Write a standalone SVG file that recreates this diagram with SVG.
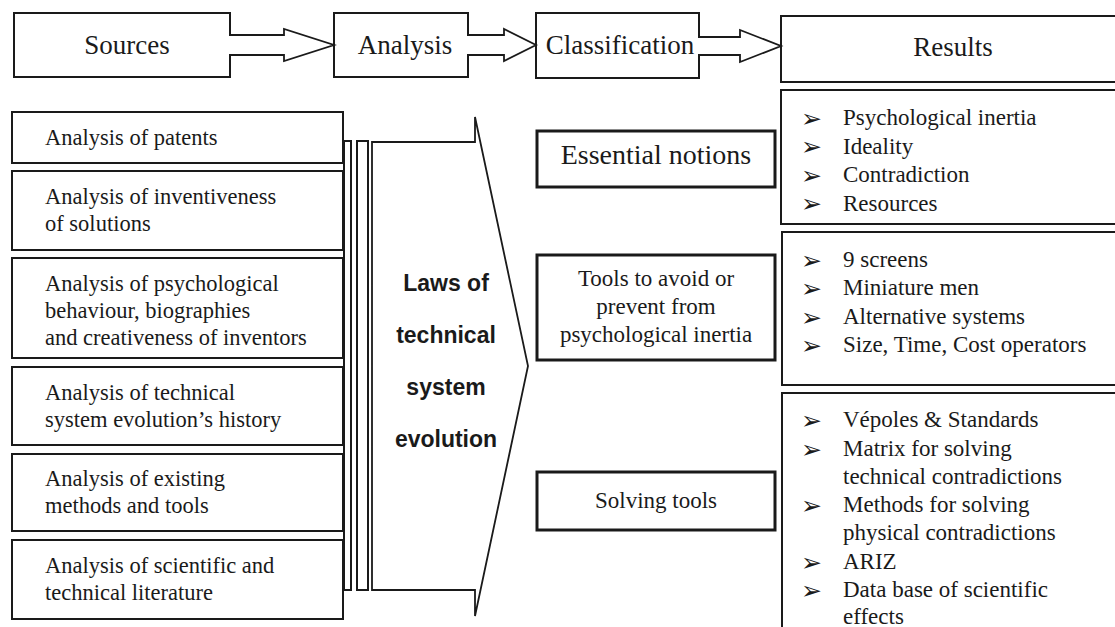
<svg xmlns="http://www.w3.org/2000/svg" width="1115" height="627" viewBox="0 0 1115 627">
<style>
.bx{fill:#fff;stroke:#1a1a1a;stroke-width:2}
.bxt{fill:#fff;stroke:#1a1a1a;stroke-width:3}
.ar{fill:#fff;stroke:#1a1a1a;stroke-width:1.8;stroke-linejoin:miter}
.t{font-family:"Liberation Serif","Times New Roman",serif;fill:#1a1a1a}
.h{font-size:27px}
.s{font-size:22.5px}
.r{font-size:23px}
.b{font-family:"DejaVu Sans",sans-serif;font-size:25px;fill:#1a1a1a}
.law{font-family:"Liberation Sans",Arial,sans-serif;font-weight:bold;font-size:23px;fill:#1a1a1a}
</style>
<rect width="1115" height="627" fill="#fff"/>

<g id="sources"><rect class="bx" x="14" y="13" width="216" height="64"/><text class="t h" x="127" y="54" text-anchor="middle">Sources</text></g>
<g id="analysis"><rect class="bx" x="334" y="13" width="134" height="64"/><text class="t h" x="405" y="54" text-anchor="middle">Analysis</text></g>
<g id="classification"><rect class="bx" x="536" y="13" width="163" height="65"/><text class="t h" x="620" y="54" text-anchor="middle">Classification</text></g>
<g id="results"><rect class="bx" x="781" y="16" width="345" height="66"/><text class="t h" x="953" y="56" text-anchor="middle">Results</text></g>

<g id="connectors">
<path class="ar" d="M229,35 L284,35 L284,29 L334,45 L284,61 L284,55 L229,55"/>
<path class="ar" d="M467,35 L504,35 L504,29 L536,45 L504,61 L504,55 L467,55"/>
<path class="ar" d="M698,37 L740,37 L740,30 L781,46 L740,62 L740,55 L698,55"/>
</g>

<g id="src1"><rect class="bx" x="12" y="112" width="331" height="51"/><text class="t s" x="45" y="145">Analysis of patents</text></g>
<g id="src2"><rect class="bx" x="12" y="171" width="331" height="79"/><text class="t s" x="45" y="204">Analysis of inventiveness</text><text class="t s" x="45" y="231">of solutions</text></g>
<g id="src3"><rect class="bx" x="12" y="258" width="331" height="100"/><text class="t s" x="45" y="291">Analysis of psychological</text><text class="t s" x="45" y="318">behaviour, biographies</text><text class="t s" x="45" y="345">and creativeness of inventors</text></g>
<g id="src4"><rect class="bx" x="12" y="367" width="331" height="78"/><text class="t s" x="45" y="400">Analysis of technical</text><text class="t s" x="45" y="427">system evolution’s history</text></g>
<g id="src5"><rect class="bx" x="12" y="454" width="331" height="77"/><text class="t s" x="45" y="486">Analysis of existing</text><text class="t s" x="45" y="513">methods and tools</text></g>
<g id="src6"><rect class="bx" x="12" y="540" width="331" height="79"/><text class="t s" x="45" y="573">Analysis of scientific and</text><text class="t s" x="45" y="600">technical literature</text></g>

<g id="bars"><rect class="bx" x="344" y="141" width="7" height="449" stroke-width="1.6"/><rect class="bx" x="357" y="141" width="11" height="449" stroke-width="1.6"/></g>

<g id="laws">
<path class="ar" d="M372,142 L475,142 L475,117 L528,366 L475,616 L475,590 L372,590 Z"/>
<text class="law" x="446" y="291" text-anchor="middle">Laws of</text>
<text class="law" x="446" y="343" text-anchor="middle">technical</text>
<text class="law" x="446" y="395" text-anchor="middle">system</text>
<text class="law" x="446" y="447" text-anchor="middle">evolution</text>
</g>

<g id="essential"><rect class="bxt" x="537" y="131" width="238" height="56"/><text class="t" font-size="28" x="656" y="164" text-anchor="middle">Essential notions</text></g>
<g id="tools"><rect class="bxt" x="537" y="255" width="238" height="105"/><text class="t r" x="656" y="286" text-anchor="middle">Tools to avoid or</text><text class="t r" x="656" y="314" text-anchor="middle">prevent from</text><text class="t r" x="656" y="342" text-anchor="middle">psychological inertia</text></g>
<g id="solving"><rect class="bxt" x="537" y="472" width="238" height="58"/><text class="t r" x="656" y="508" text-anchor="middle">Solving tools</text></g>

<g id="res1"><rect class="bx" x="781" y="90" width="345" height="134"/>
<text class="b" x="801" y="126.5">➢</text><text class="t r" x="843" y="125">Psychological inertia</text>
<text class="b" x="801" y="155">➢</text><text class="t r" x="843" y="153.5">Ideality</text>
<text class="b" x="801" y="183.5">➢</text><text class="t r" x="843" y="182">Contradiction</text>
<text class="b" x="801" y="212">➢</text><text class="t r" x="843" y="210.5">Resources</text>
</g>
<g id="res2"><rect class="bx" x="782" y="232" width="344" height="153"/>
<text class="b" x="801" y="268.5">➢</text><text class="t r" x="843" y="267">9 screens</text>
<text class="b" x="801" y="296.5">➢</text><text class="t r" x="843" y="295">Miniature men</text>
<text class="b" x="801" y="325.5">➢</text><text class="t r" x="843" y="324">Alternative systems</text>
<text class="b" x="801" y="353.5">➢</text><text class="t r" x="843" y="352">Size, Time, Cost operators</text>
</g>
<g id="res3"><rect class="bx" x="782" y="393" width="344" height="260"/>
<text class="b" x="801" y="428.5">➢</text><text class="t r" x="843" y="427">Vépoles &amp; Standards</text>
<text class="b" x="801" y="457.5">➢</text><text class="t r" x="843" y="456">Matrix for solving</text>
<text class="t r" x="843" y="484">technical contradictions</text>
<text class="b" x="801" y="513.5">➢</text><text class="t r" x="843" y="512">Methods for solving</text>
<text class="t r" x="843" y="540">physical contradictions</text>
<text class="b" x="801" y="570.5">➢</text><text class="t r" x="843" y="569">ARIZ</text>
<text class="b" x="801" y="598.5">➢</text><text class="t r" x="843" y="597">Data base of scientific</text>
<text class="t r" x="843" y="624">effects</text>
</g>
</svg>
